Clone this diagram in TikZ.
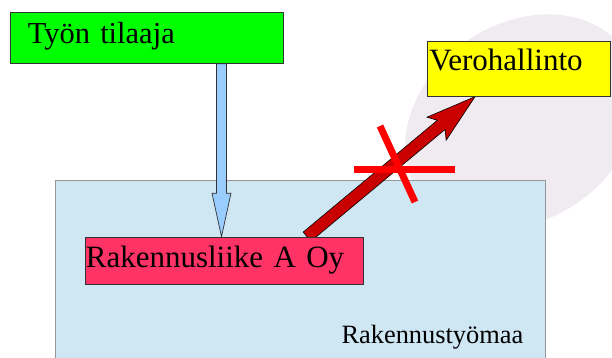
\documentclass[tikz,border=0pt]{standalone}
\usepackage{fontspec}
\setmainfont{Liberation Serif}
\usetikzlibrary{calc}
\pgfdeclarelayer{bg}
\pgfsetlayers{bg,main}
\definecolor{cgreen}{RGB}{0,255,0}
\definecolor{cyellow}{RGB}{255,255,0}
\definecolor{cpink}{RGB}{255,51,102}
\definecolor{csite}{RGB}{207,230,243}
\definecolor{csiteborder}{RGB}{150,150,150}
\definecolor{cblue}{RGB}{153,204,255}
\definecolor{cdarkred}{RGB}{200,0,0}
\definecolor{cwm}{RGB}{240,235,241}
\definecolor{cedge}{RGB}{50,50,50}
\begin{document}
\begin{tikzpicture}[x=1pt,y=-1pt,
  box/.style={draw=cedge, line width=0.7pt, inner ysep=0pt, align=left, text depth=0pt, anchor=north west},
  bigfont/.style={font=\fontsize{31}{33}\selectfont},
  blueArr/.style={draw=cedge, line width=0.7pt, fill=cblue},
  redArr/.style={draw=black, line width=0.6pt, fill=cdarkred},
  crossline/.style={draw=red, line width=7pt}
]
\useasboundingbox (0,0) rectangle (612,358);
% boxes
\node[box, font=\fontsize{30.5}{32}\selectfont, fill=cgreen, minimum width=273pt, minimum height=51pt, text width=238pt, inner xsep=17.5pt, text height=11.6pt] (green) at (10,12) {Työn tilaaja};
\node[box, bigfont, fill=cyellow, minimum width=183pt, minimum height=55pt, text width=179pt, inner xsep=2pt, text height=3pt] (yellow) at (427,41) {Verohallinto};
\node[box, bigfont, fill=cpink, minimum width=278pt, minimum height=47.6pt, text width=277pt, inner xsep=0.5pt, text height=12.4pt] (red) at (85,236.7) {Rakennusliike A Oy};
\node[font=\fontsize{26.4}{28}\selectfont, anchor=base west, inner sep=0pt] (sitelbl) at (341.3,343) {Rakennustyömaa};
\begin{pgfonlayer}{bg}
\fill[cwm, rotate around={35:(522,122)}] (522,122) ellipse [x radius=125, y radius=98];
% site
\node[draw=csiteborder, line width=0.9pt, fill=csite, anchor=north west, minimum width=490pt, minimum height=200pt, inner sep=0pt] (site) at (55,180) {};
% blue arrow
\coordinate (bx) at (221.5,0);
\coordinate (btop) at (bx |- green.south);
\coordinate (btip) at (bx |- red.north);
\draw[blueArr] ($(btop)+(-5,0)$) -- ($(btip)+(-5,-43.5)$) -- ($(btip)+(-9.5,-43.5)$) -- (btip) -- ($(btip)+(9.5,-43.5)$) -- ($(btip)+(5,-43.5)$) -- ($(btop)+(5,0)$) -- cycle;
% dark red arrow
\coordinate (rx) at (307,0);
\coordinate (tx) at (475,0);
\coordinate (rs) at (rx |- red.north);
\coordinate (yt) at (tx |- yellow.south);
\coordinate (hj) at ($(yt)!44pt!(rs)$);
\coordinate (hb) at ($(yt)!50pt!(rs)$);
\draw[redArr] ($(rs)!6pt!90:(yt)$) -- ($(hj)!6pt!90:(yt)$) -- ($(hb)!15pt!90:(yt)$) -- (yt) -- ($(hb)!15pt!-90:(yt)$) -- ($(hj)!6pt!-90:(yt)$) -- ($(rs)!6pt!-90:(yt)$) -- cycle;
\end{pgfonlayer}
% cross
\draw[crossline] (354,169) -- (455,169);
\draw[crossline] (380,126) -- (415,202);
\end{tikzpicture}
\end{document}
